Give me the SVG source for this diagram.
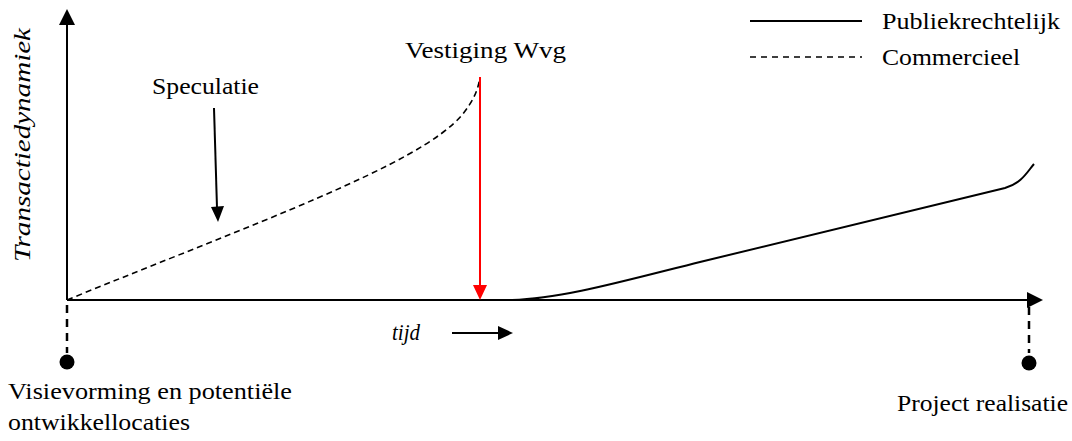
<svg xmlns="http://www.w3.org/2000/svg" width="1072" height="441" viewBox="0 0 1072 441">
<style>
.t{font-family:'Liberation Serif';fill:#000;font-size:24px}
.it{font-family:'Liberation Serif';font-style:italic;fill:#000;font-size:24px}
.ln{fill:none;stroke:#000;stroke-width:2}
.ds{fill:none;stroke:#000;stroke-width:1.6;stroke-dasharray:6,4}
.vd{fill:none;stroke:#000;stroke-width:2.5;stroke-dasharray:8,6}
</style>
<g id="axes">
<line class="ln" x1="67" y1="300" x2="67" y2="24"/>
<path d="M59,25 L67,9 L75,25 z" fill="#000"/>
<line class="ln" x1="67" y1="300" x2="1028" y2="300"/>
<path d="M1027,292 L1043,300 L1027,308 z" fill="#000"/>
<text class="it" font-family="Liberation Serif" transform="translate(30,145) rotate(-90)" text-anchor="middle" textLength="234" lengthAdjust="spacingAndGlyphs">Transactiedynamiek</text>
</g>
<g id="connectors">
<path class="ds" d="M67,300 C 250,225 420,165 462,115 C 474,100 478,90 480,77"/>
<path class="ln" d="M480,300 L512,300 C 560,299 620,282 700,262 L 1005,188 C 1022,183 1027,172 1034,164"/>
<line x1="480" y1="77" x2="480" y2="286" stroke="#f00" stroke-width="2"/>
<path d="M473,285 L480,300 L487,285 z" fill="#f00"/>
<line x1="214" y1="108" x2="217" y2="208" stroke="#000" stroke-width="2"/>
<path d="M211,207 L218,222 L224,206 z" fill="#000"/>
<line class="vd" x1="67" y1="305" x2="67" y2="353"/>
<line class="vd" x1="1029" y1="307" x2="1029" y2="353"/>
<line x1="452" y1="333" x2="500" y2="333" stroke="#000" stroke-width="2"/>
<path d="M498,326 L513,333 L498,340 z" fill="#000"/>
</g>
<g id="start"><circle cx="67" cy="362" r="7.5" fill="#000"/>
<text class="t" font-family="Liberation Serif" x="8" y="399" textLength="284" lengthAdjust="spacingAndGlyphs">Visievorming en potenti&#235;le</text>
<text class="t" font-family="Liberation Serif" x="8" y="430" textLength="182" lengthAdjust="spacingAndGlyphs">ontwikkellocaties</text></g>
<g id="end"><circle cx="1029" cy="363" r="7.5" fill="#000"/>
<text class="t" font-family="Liberation Serif" x="897" y="411" textLength="171" lengthAdjust="spacingAndGlyphs">Project realisatie</text></g>
<g id="speculatie"><text class="t" font-family="Liberation Serif" x="152" y="94" textLength="107" lengthAdjust="spacingAndGlyphs">Speculatie</text></g>
<g id="vestiging"><text class="t" font-family="Liberation Serif" x="405" y="58" textLength="161" lengthAdjust="spacingAndGlyphs">Vestiging Wvg</text></g>
<g id="tijd"><text class="it" font-family="Liberation Serif" x="392" y="340" textLength="28" lengthAdjust="spacingAndGlyphs">tijd</text></g>
<g id="legend">
<line x1="750" y1="21" x2="862" y2="21" stroke="#000" stroke-width="2"/>
<text class="t" font-family="Liberation Serif" x="882" y="29" textLength="178" lengthAdjust="spacingAndGlyphs">Publiekrechtelijk</text>
<line x1="750" y1="57" x2="862" y2="57" stroke="#000" stroke-width="1.6" stroke-dasharray="6,5"/>
<text class="t" font-family="Liberation Serif" x="882" y="65" textLength="138" lengthAdjust="spacingAndGlyphs">Commercieel</text>
</g>
</svg>
